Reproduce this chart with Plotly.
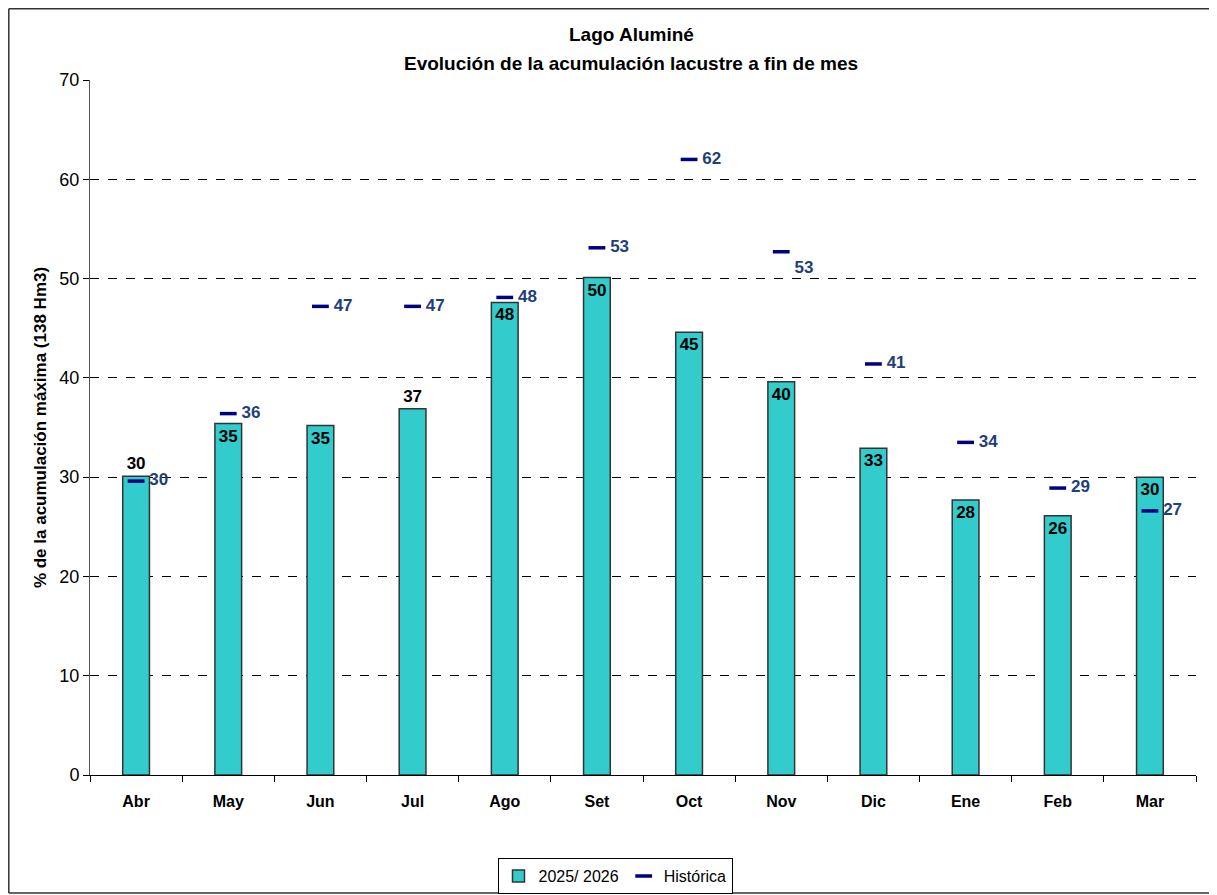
import plotly.graph_objects as go

months = ["Abr", "May", "Jun", "Jul", "Ago", "Set", "Oct", "Nov", "Dic", "Ene", "Feb", "Mar"]
actual = [30.1, 35.4, 35.2, 36.9, 47.6, 50.1, 44.6, 39.6, 32.9, 27.7, 26.1, 30.0]
historic = [29.6, 36.4, 47.2, 47.2, 48.1, 53.1, 62.0, 52.7, 41.4, 33.5, 28.9, 26.6]
bar_textpos = ["outside", "inside", "inside", "outside", "inside", "inside",
               "inside", "inside", "inside", "inside", "inside", "inside"]
hist_textpos = ["middle right"] * 7 + ["bottom right"] + ["middle right"] * 4

FONT = "Liberation Sans, Arial, sans-serif"

fig = go.Figure()
fig.add_trace(go.Bar(
    x=months, y=actual, name="2025/ 2026",
    marker=dict(color="#33CCCC", line=dict(color="#333333", width=1.5)),
    width=0.29,
    text=[f"<b>{round(v)}</b>" for v in actual],
    textposition=bar_textpos,
    insidetextanchor="end",
    textfont=dict(family=FONT, size=17, color="black"),
    cliponaxis=False,
))
fig.add_trace(go.Scatter(
    x=months, y=historic, name="Histórica", mode="markers+text",
    marker=dict(symbol="line-ew", size=12, line=dict(width=3.5, color="#000080")),
    text=[f"\u00a0<b>{round(v)}</b>" for v in historic],
    textposition=hist_textpos,
    textfont=dict(family=FONT, size=17, color="#1F3F7A"),
    cliponaxis=False,
))

OFF = 8  # browser body margin
W, H = 1217 - OFF, 895 - OFF
L, T = 90 - OFF, 80 - OFF
R = W - (1196 - OFF)
B = H - (775 - OFF)
pw, ph = W - L - R, H - T - B

def px(sx):
    return (sx - OFF - L) / pw

def py(sy):
    return ((H - B) - (sy - OFF)) / ph

border = dict(color="#333333", width=1.5)

fig.update_layout(
    width=W, height=H,
    margin=dict(l=L, r=R, t=T, b=B, autoexpand=False),
    paper_bgcolor="white", plot_bgcolor="white",
    font=dict(family=FONT, size=16, color="black"),
    showlegend=True,
    legend=dict(
        orientation="h", x=px(615), y=py(876), xanchor="center", yanchor="middle",
        bordercolor="black", borderwidth=1, font=dict(size=16),
        itemwidth=30, tracegroupgap=0,
    ),
    xaxis=dict(
        type="category", range=[-0.5, len(months) - 0.5], autorange=False,
        tickmode="array", tickvals=months, ticktext=[f"<b>{m}</b>" for m in months],
        tickson="boundaries", ticks="outside", ticklen=6, tickcolor="black",
        showline=True, linecolor="black", linewidth=1,
        tickfont=dict(size=16), showgrid=False, ticklabelstandoff=12,
    ),
    yaxis=dict(
        range=[0, 70], dtick=10, ticks="outside", ticklen=6, tickcolor="black",
        showline=True, linecolor="#555555", linewidth=1,
        showgrid=True, gridcolor="black", griddash="dash", gridwidth=1,
        tickfont=dict(size=18), zeroline=False,
        title=dict(text="<b>% de la acumulación máxima (138 Hm3)</b>", font=dict(size=17), standoff=8),
    ),
    annotations=[
        dict(text="<b>Lago Aluminé</b>", x=px(631), y=py(35), xref="paper", yref="paper",
             showarrow=False, font=dict(size=19), xanchor="center", yanchor="middle"),
        dict(text="<b>Evolución de la acumulación lacustre a fin de mes</b>", x=px(631), y=py(63),
             xref="paper", yref="paper", showarrow=False, font=dict(size=19),
             xanchor="center", yanchor="middle"),
    ],
    shapes=[
        dict(type="line", xref="paper", yref="paper", x0=px(8.8), x1=px(1240), y0=py(8.8), y1=py(8.8), line=border),
        dict(type="line", xref="paper", yref="paper", x0=px(8.8), x1=px(1240), y0=py(893), y1=py(893), line=border),
        dict(type="line", xref="paper", yref="paper", x0=px(8.8), x1=px(8.8), y0=py(8.8), y1=py(893), line=border),
    ],
)

fig.write_html("out.html")
